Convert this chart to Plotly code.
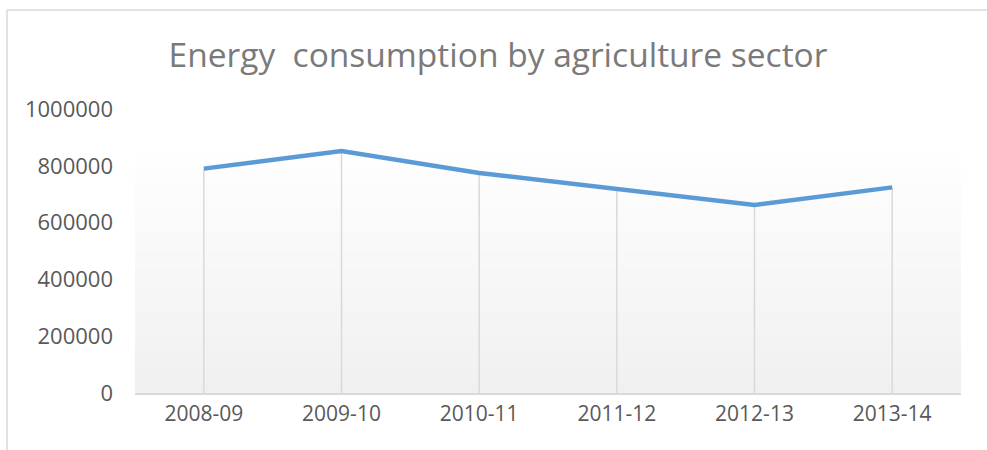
import plotly.graph_objects as go

years = ["2008-09", "2009-10", "2010-11", "2011-12", "2012-13", "2013-14"]
consumption = [790000, 852000, 775000, 718000, 662000, 724000]
y_ticks = [0, 200000, 400000, 600000, 800000, 1000000]

W, H = 987, 450
L, R, T, B = 135, 26, 109, 57
pw, ph = W - L - R, H - T - B

def px_x(p):
    return (p - L) / pw

def px_y(p):
    return (H - B - p) / ph

fig = go.Figure()

# drop lines
dx, dy = [], []
for c, v in zip(years, consumption):
    dx += [c, c, None]
    dy += [0, v, None]
fig.add_trace(go.Scatter(x=dx, y=dy, mode="lines",
                         line=dict(color="#d9d9d9", width=1.5),
                         hoverinfo="skip", showlegend=False))

fig.add_trace(go.Scatter(x=years, y=consumption, mode="lines",
                         line=dict(color="#5b9bd5", width=4.5),
                         showlegend=False))

shapes = []
# gradient plot-area background
top = px_y(143)
n = 60
for i in range(n):
    y0 = top * i / n
    y1 = top * (i + 1) / n
    t = i / (n - 1)
    g = int(round(240 + (255 - 240) * t))
    shapes.append(dict(type="rect", xref="paper", yref="paper",
                       x0=0, x1=1, y0=y0, y1=y1 + 0.002,
                       fillcolor=f"rgb({g},{g},{g})", line=dict(width=0),
                       layer="below"))
# chart border (left + top)
shapes.append(dict(type="line", xref="paper", yref="paper",
                   x0=px_x(7), x1=px_x(7), y0=px_y(10), y1=px_y(H + 5),
                   line=dict(color="#d9d9d9", width=1.5)))
shapes.append(dict(type="line", xref="paper", yref="paper",
                   x0=px_x(7), x1=px_x(W + 5), y0=px_y(10), y1=px_y(10),
                   line=dict(color="#d9d9d9", width=1.5)))

fig.update_layout(
    width=W, height=H,
    margin=dict(l=L, r=R, t=T, b=B),
    paper_bgcolor="white", plot_bgcolor="rgba(0,0,0,0)",
    shapes=shapes,
    title=dict(text="Energy  consumption by agriculture sector",
               x=498 / W, xanchor="center", y=1 - 55 / H, yanchor="middle",
               font=dict(family="Open Sans", size=33.5, color="#7a7a7a")),
    xaxis=dict(type="category", showgrid=False, zeroline=False,
               showline=True, linecolor="#d9d9d9", linewidth=1.5,
               ticks="", ticklabelstandoff=1,
               tickfont=dict(family="Open Sans", size=21, color="#595959"),
               range=[-0.5, 5.5]),
    yaxis=dict(range=[0, 1000000], tickvals=y_ticks,
               ticktext=[str(v) for v in y_ticks],
               showgrid=False, zeroline=False, showline=False, ticks="",
               ticklabelstandoff=21,
               tickfont=dict(family="Open Sans", size=22, color="#595959")),
)

fig.write_html("out.html")
